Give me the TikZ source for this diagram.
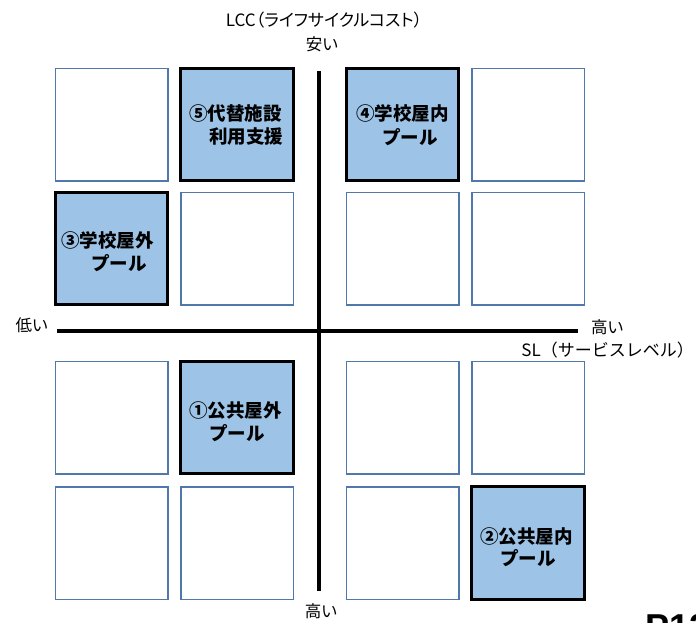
\documentclass[tikz,border=0pt]{standalone}
\usepackage{fontspec}
\newfontfamily\jp{Noto Sans CJK JP}
\newfontfamily\jpp[RawFeature=+palt]{Noto Sans CJK JP}
\newfontfamily\pf{Liberation Sans}
\definecolor{boxfill}{RGB}{157,195,230}
\definecolor{thinc}{RGB}{80,120,170}
\begin{document}
\begin{tikzpicture}[x=1pt,y=-1pt,
  cell/.style={rectangle, draw=thinc, line width=1.5pt, minimum width=112.5pt, minimum height=112.5pt, inner sep=0pt, outer sep=0pt},
  hot/.style={cell, draw=black, line width=3pt, fill=boxfill},
  lab/.style={font=\jp\bfseries\fontsize{18.5}{22}\selectfont, anchor=west, inner sep=0pt},
  axl/.style={font=\jpp\fontsize{16.5}{19}\selectfont, inner sep=0pt},
  axisline/.style={line width=4pt, black}]
\useasboundingbox (0,0) rectangle (696,622);
% row 1
\node[cell] (b11) at (111.5,124.5) {};
\node[hot]  (b12) at (237,124.5) {};
\node[hot]  (b13) at (402.5,124.5) {};
\node[cell] (b14) at (528,124.5) {};
% row 2
\node[hot]  (b21) at (111.5,248.5) {};
\node[cell] (b22) at (237,248.5) {};
\node[cell] (b23) at (402.5,248.5) {};
\node[cell] (b24) at (528,248.5) {};
% row 3
\node[cell] (b31) at (111.5,417.5) {};
\node[hot]  (b32) at (237,417.5) {};
\node[cell] (b33) at (402.5,417.5) {};
\node[cell] (b34) at (528,417.5) {};
% row 4
\node[cell] (b41) at (111.5,543) {};
\node[cell] (b42) at (237,543) {};
\node[cell] (b43) at (402.5,543) {};
\node[hot]  (b44) at (528,543) {};
% labels
\node[lab] (l5a) at (189,113) {⑤代替施設};
\node[lab] (l5b) at (209,137) {利用支援};
\node[lab] (l4a) at (356,113) {④学校屋内};
\node[lab] (l4b) at (382,137) {プール};
\node[lab] (l3a) at (61,240) {③学校屋外};
\node[lab] (l3b) at (91,263) {プール};
\node[lab] (l1a) at (189,410) {①公共屋外};
\node[lab] (l1b) at (209,433) {プール};
\node[lab] (l2a) at (480,537) {②公共屋内};
\node[lab] (l2b) at (500,558) {プール};
% axes
\coordinate (vt) at (319,71);
\coordinate (vb) at (319,591);
\coordinate (hl) at (57,331);
\coordinate (hr) at (578,331);
\draw[axisline] (vt) -- (vb);
\draw[axisline] (hl) -- (hr);
% axis labels
\node[axl, font=\jpp\fontsize{17}{19}\selectfont] (lcc) at (324,20) {LCC（ライフサイクルコスト）};
\node[axl] (cheap) at (322,44) {安い};
\node[axl] (high2) at (321,611) {高い};
\node[axl, anchor=east] (low) at (48,325) {低い};
\node[axl, anchor=west] (high1) at (591,327) {高い};
\node[axl, font=\jp\fontsize{17}{19}\selectfont, anchor=east] (sl) at (694,350) {SL（サービスレベル）};
\node[font=\pf\bfseries\fontsize{36}{40}\selectfont, anchor=base west, inner sep=0pt] (pg) at (645,639) {P12};
\end{tikzpicture}
\end{document}
